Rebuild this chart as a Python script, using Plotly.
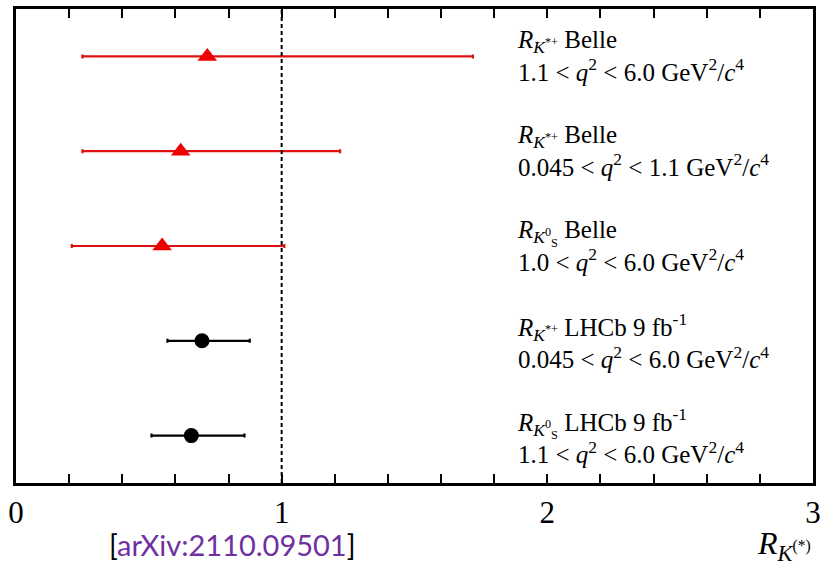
import plotly.graph_objects as go

# data
labels_line1 = [
    "<i>R</i><sub><i>K</i><sup>*+</sup></sub> Belle",
    "<i>R</i><sub><i>K</i><sup>*+</sup></sub> Belle",
    "<i>R</i><sub><i>K</i><sup>0</sup><sub>S</sub></sub> Belle",
    "<i>R</i><sub><i>K</i><sup>*+</sup></sub> LHCb 9 fb<sup>-1</sup>",
    "<i>R</i><sub><i>K</i><sup>0</sup><sub>S</sub></sub> LHCb 9 fb<sup>-1</sup>",
]
labels_line2 = [
    "1.1 &lt; <i>q</i><sup>2</sup> &lt; 6.0 GeV<sup>2</sup>/<i>c</i><sup>4</sup>",
    "0.045 &lt; <i>q</i><sup>2</sup> &lt; 1.1 GeV<sup>2</sup>/<i>c</i><sup>4</sup>",
    "1.0 &lt; <i>q</i><sup>2</sup> &lt; 6.0 GeV<sup>2</sup>/<i>c</i><sup>4</sup>",
    "0.045 &lt; <i>q</i><sup>2</sup> &lt; 6.0 GeV<sup>2</sup>/<i>c</i><sup>4</sup>",
    "1.1 &lt; <i>q</i><sup>2</sup> &lt; 6.0 GeV<sup>2</sup>/<i>c</i><sup>4</sup>",
]
y_pos = [5, 4, 3, 2, 1]
central = [0.72, 0.62, 0.55, 0.70, 0.66]
err_plus = [1.00, 0.60, 0.46, 0.18, 0.20]
err_minus = [0.47, 0.37, 0.34, 0.13, 0.15]
experiment = ["Belle", "Belle", "Belle", "LHCb", "LHCb"]

fig = go.Figure()

belle = [i for i, e in enumerate(experiment) if e == "Belle"]
lhcb = [i for i, e in enumerate(experiment) if e == "LHCb"]

fig.add_trace(go.Scatter(
    x=[central[i] for i in belle], y=[y_pos[i] for i in belle],
    mode="markers",
    marker=dict(symbol="triangle-up", size=17, color="#ee0000"),
    error_x=dict(type="data", symmetric=False,
                 array=[err_plus[i] for i in belle],
                 arrayminus=[err_minus[i] for i in belle],
                 color="#dd1111", thickness=2.2, width=2),
    showlegend=False,
))
fig.add_trace(go.Scatter(
    x=[central[i] for i in lhcb], y=[y_pos[i] for i in lhcb],
    mode="markers",
    marker=dict(symbol="circle", size=15, color="black"),
    error_x=dict(type="data", symmetric=False,
                 array=[err_plus[i] for i in lhcb],
                 arrayminus=[err_minus[i] for i in lhcb],
                 color="black", thickness=2.2, width=2),
    showlegend=False,
))

fig.add_shape(type="line", x0=1, x1=1, y0=0, y1=1, yref="paper",
              line=dict(color="black", width=2, dash="4px,3px"))

for i in range(len(y_pos)):
    fig.add_annotation(x=1.88, y=y_pos[i], xref="x", yref="y",
                       text=labels_line1[i] + "<br>" + labels_line2[i],
                       showarrow=False, xanchor="left", yanchor="middle",
                       align="left",
                       font=dict(family="Liberation Serif", size=25, color="black"))

fig.add_annotation(x=1.0, y=-0.085, xref="paper", yref="paper",
                   text="<i>R</i><sub><i>K</i><sup>(*)</sup></sub>",
                   showarrow=False, xanchor="right", yanchor="top",
                   font=dict(family="Liberation Serif", size=32, color="black"))
fig.add_annotation(x=0.272, y=-0.13, xref="paper", yref="paper",
                   text="[<span style='color:#7030a0'>arXiv:2110.09501</span>]",
                   showarrow=False, xanchor="center", yanchor="middle",
                   font=dict(family="Lato", size=29, color="black"))

fig.update_xaxes(range=[0, 3], dtick=1, tick0=0, ticks="inside", ticklen=9,
                 tickwidth=1.5, tickcolor="black",
                 minor=dict(dtick=0.2, ticks="inside", ticklen=9, tickcolor="black", tickwidth=1.5),
                 showline=True, linewidth=2.5, linecolor="black", mirror="allticks",
                 showgrid=False, zeroline=False,
                 tickfont=dict(family="Liberation Serif", size=31, color="black"))
fig.update_yaxes(range=[0.5, 5.5], showticklabels=False, ticks="",
                 showline=True, linewidth=2.5, linecolor="black", mirror=True,
                 showgrid=False, zeroline=False)

fig.update_layout(width=827, height=568, margin=dict(l=16, r=6, t=8, b=85),
                  plot_bgcolor="white", paper_bgcolor="white")

fig.write_html("out.html")
